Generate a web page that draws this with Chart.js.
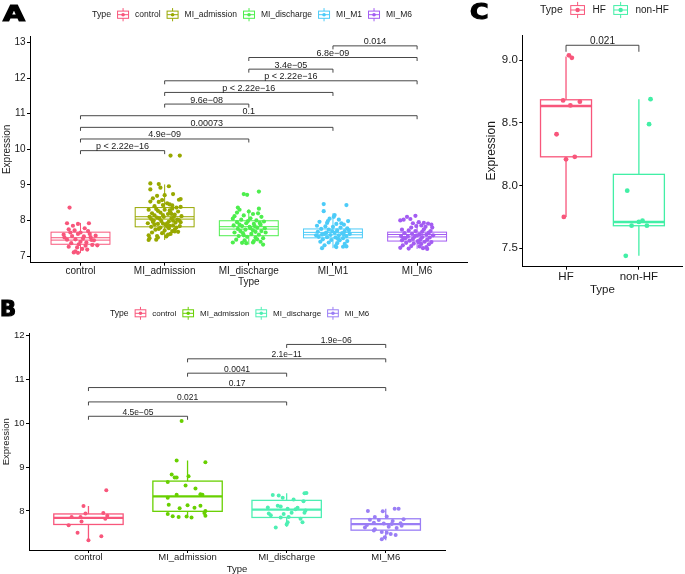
<!DOCTYPE html>
<html>
<head>
<meta charset="utf-8">
<script src="https://cdn.jsdelivr.net/npm/chart.js@4.4.1/dist/chart.umd.min.js"></script>
<style>
  html, body { margin: 0; padding: 0; background: #fff; }
  body { width: 685px; height: 574px; position: relative; overflow: hidden; }
  .panel { position: absolute; }
  .tag { position: absolute; font-family: "DejaVu Sans", sans-serif; font-weight: bold; font-size: 21px; line-height: 1; color: #000; -webkit-text-stroke: 1.2px #000; transform-origin: left top; }
</style>
</head>
<body>
<div class="panel" style="left:0;top:0;width:470px;height:290px"><canvas id="chartA"></canvas></div>
<div class="panel" style="left:0;top:290px;width:450px;height:284px"><canvas id="chartB"></canvas></div>
<div class="panel" style="left:470px;top:0;width:215px;height:300px"><canvas id="chartC"></canvas></div>
<div class="tag" style="left:3px;top:4px;transform:scaleX(1.35)">A</div>
<div class="tag" style="left:0;top:299px">B</div>
<div class="tag" style="left:470px;top:2px;transform:scaleX(1.2)">C</div>
<script>
// ===== Panel A data =====
const groupsA = ['control', 'MI_admission', 'MI_discharge', 'MI_M1', 'MI_M6'];
const ticksA = [7, 8, 9, 10, 11, 12, 13];
const q1A  = [7.33, 7.82, 7.57, 7.51, 7.42];
const medA = [7.48, 8.07, 7.79, 7.63, 7.57];
const q3A  = [7.67, 8.36, 7.99, 7.76, 7.67];
const loA  = [7.08, 7.45, 7.32, 7.22, 7.20];
const hiA  = [7.93, 9.01, 8.31, 8.20, 7.96];

const aControl = [8.36,7.92,7.90,7.92,7.75,7.72,7.66,7.70,7.60,7.56,7.62,7.55,7.53,7.46,7.47,7.49,7.44,7.36,7.33,7.38,7.30,7.26,7.24,7.29,7.31,7.13,7.09,7.10,7.18,7.40,7.62,7.52,7.78,7.85,7.45,7.20,7.66,7.57];
const aControlJit = [-0.13,-0.16,-0.03,0.10,-0.14,-0.07,0.00,0.09,-0.20,-0.10,-0.03,0.04,0.12,-0.16,-0.06,0.03,0.16,-0.11,-0.02,0.07,0.20,-0.14,-0.04,0.06,0.14,-0.06,-0.03,-0.08,0.08,0.00,0.11,-0.19,0.05,-0.09,0.13,0.02,-0.12,0.18];
const aAdmission = [9.82,9.82,9.04,9.02,8.96,8.92,8.87,8.74,8.69,8.71,8.62,8.60,8.58,8.53,8.52,8.48,8.40,8.43,8.42,8.36,8.30,8.32,8.30,8.28,8.25,8.20,8.22,8.18,8.16,8.12,8.10,8.08,8.10,8.05,8.02,8.00,7.98,7.97,7.94,7.92,7.90,7.88,7.86,7.84,7.82,7.80,7.78,7.80,7.74,7.72,7.70,7.66,7.64,7.62,7.68,7.58,7.56,7.55,7.50,7.52,7.45,7.46,7.60,7.74,8.15,8.33,8.14,7.95,8.05,8.10,7.92,7.96,8.22,8.27,8.18,8.04,7.99,7.89,7.83,7.76,7.69,8.45,8.57,8.38,8.01,7.91,7.85];
const aAdmissionJit = [0.07,0.18,-0.17,-0.07,0.05,-0.05,-0.17,0.10,-0.09,0.00,-0.14,0.19,0.17,-0.17,-0.07,0.03,-0.12,-0.02,0.09,0.14,-0.19,-0.10,0.00,0.06,0.16,-0.15,-0.05,0.04,0.12,0.20,-0.18,-0.09,-0.01,0.08,0.15,-0.13,-0.04,0.05,0.13,-0.20,-0.08,0.01,0.10,0.18,-0.16,-0.05,0.05,0.14,-0.11,0.00,0.09,-0.15,-0.03,0.07,0.16,-0.19,-0.09,0.02,-0.18,-0.08,-0.19,-0.10,0.04,0.12,-0.02,0.09,-0.12,0.19,-0.06,0.11,0.03,-0.14,0.07,-0.08,0.08,-0.16,0.10,-0.12,0.03,-0.07,0.12,0.06,-0.03,0.19,0.17,-0.02,0.06];
const aDischarge = [8.74,8.72,8.81,8.36,8.30,8.33,8.25,8.12,8.14,8.18,8.10,8.05,8.02,8.06,8.00,7.97,7.95,7.92,7.90,7.88,7.86,7.84,7.82,7.80,7.78,7.76,7.74,7.72,7.70,7.66,7.64,7.62,7.60,7.56,7.54,7.52,7.50,7.46,7.44,7.42,7.40,7.38,7.37,7.36,7.38,7.32,7.47,7.70,7.84,7.98,8.20,8.22,7.66,7.58,7.78,7.93,7.88,7.68];
const aDischargeJit = [-0.06,-0.02,0.12,-0.13,-0.11,0.12,0.00,-0.17,-0.06,0.05,0.15,-0.19,-0.09,0.02,0.09,0.18,-0.14,-0.03,0.06,0.14,-0.18,-0.08,0.01,0.10,0.19,-0.13,-0.04,0.05,0.15,-0.17,-0.07,0.03,0.12,-0.12,-0.02,0.08,0.17,-0.15,-0.05,0.06,0.14,-0.19,-0.08,-0.03,0.05,0.17,0.10,-0.10,0.07,-0.01,0.11,-0.14,0.20,-0.06,0.02,0.13,-0.11,0.08];
const aM1 = [8.46,8.43,8.26,8.15,8.10,8.05,8.02,7.98,7.96,7.93,7.90,7.88,7.85,7.83,7.82,7.80,7.78,7.76,7.74,7.72,7.70,7.68,7.66,7.65,7.64,7.62,7.60,7.59,7.58,7.56,7.54,7.53,7.52,7.50,7.47,7.45,7.44,7.42,7.40,7.38,7.36,7.34,7.30,7.28,7.26,7.22,7.25,7.27,7.70,7.92,7.62,7.48,7.58,7.72,7.98,7.60];
const aM1Jit = [-0.11,0.16,-0.11,0.02,0.01,-0.04,0.07,0.18,-0.16,-0.07,0.04,0.13,-0.19,-0.09,0.00,0.09,0.17,-0.14,-0.05,0.05,0.14,-0.18,-0.08,0.02,0.11,0.20,-0.13,-0.03,0.07,0.16,-0.17,-0.07,0.03,0.12,-0.12,-0.02,0.08,0.17,-0.15,-0.05,0.05,0.14,-0.10,0.03,0.12,-0.13,0.04,0.16,-0.01,0.10,-0.10,0.06,-0.20,0.19,-0.06,0.13];
const aM6 = [8.10,8.13,8.04,8.02,8.00,7.95,7.93,7.91,7.92,7.88,7.86,7.84,7.82,7.80,7.74,7.72,7.70,7.68,7.66,7.64,7.62,7.61,7.60,7.58,7.56,7.55,7.54,7.53,7.52,7.50,7.48,7.47,7.46,7.44,7.43,7.42,7.40,7.39,7.37,7.35,7.34,7.33,7.30,7.28,7.27,7.25,7.23,7.22,7.20,7.21,7.58,7.75,7.80,7.70,7.50,7.38];
const aM6Jit = [-0.12,-0.02,-0.08,-0.16,-0.20,0.02,0.08,0.13,-0.05,0.17,0.05,-0.01,0.10,0.18,-0.18,-0.10,-0.02,0.06,0.14,-0.15,-0.06,0.03,0.11,0.19,-0.19,-0.11,-0.03,0.06,0.15,-0.14,-0.05,0.04,0.12,-0.18,-0.09,0.01,0.09,0.17,-0.13,-0.04,0.05,0.14,-0.17,-0.07,0.03,0.11,-0.20,0.07,0.12,-0.10,0.00,0.08,-0.07,0.16,-0.16,0.02];

const pairsA = [[0,1],[0,2],[0,3],[0,4],[1,2],[1,3],[1,4],[2,3],[2,4],[3,4]];
const pLabelsA = ['p < 2.22e\u221216', '4.9e\u221209', '0.00073', '0.1', '9.6e\u221208', 'p < 2.22e\u221216', 'p < 2.22e\u221216', '3.4e\u221205', '6.8e\u221209', '0.014'];

// ===== Panel B data =====
const groupsB = ['control', 'MI_admission', 'MI_discharge', 'MI_M6'];
const ticksB = [8, 9, 10, 11, 12];
const q1B  = [7.69, 7.99, 7.85, 7.56];
const medB = [7.84, 8.33, 8.03, 7.70];
const q3B  = [7.93, 8.68, 8.24, 7.82];
const loB  = [7.33, 7.85, 7.64, 7.33];
const hiB  = [8.11, 9.15, 8.40, 8.05];

const bControl = [8.47,8.11,7.94,7.95,7.86,7.86,7.89,7.82,7.76,7.67,7.50,7.42,7.33];
const bControlJit = [0.18,-0.05,-0.03,0.15,-0.08,-0.17,0.19,0.17,-0.07,-0.20,-0.11,0.13,0.00];
const bAdmission = [10.05,9.15,9.11,8.83,8.76,8.76,8.79,8.66,8.58,8.51,8.37,8.30,8.38,8.37,8.14,8.06,8.13,8.07,8.12,8.00,7.93,7.88,7.86,7.87,7.85,7.89,7.95];
const bAdmissionJit = [-0.06,-0.11,0.18,-0.16,-0.13,-0.11,0.01,-0.20,-0.02,0.08,-0.11,-0.20,0.13,0.15,-0.19,-0.08,0.00,0.07,0.13,0.18,-0.20,-0.15,-0.09,-0.01,0.04,0.18,0.17];
const bDischarge = [8.36,8.35,8.40,8.41,8.30,8.26,8.22,8.08,8.12,8.10,8.05,8.04,8.01,7.96,7.94,7.90,7.85,7.86,7.82,7.74,7.69,7.62,7.74,7.93,8.07,7.96];
const bDischargeJit = [-0.14,-0.08,0.18,0.20,-0.04,0.07,0.17,-0.19,-0.09,-0.06,0.01,0.09,0.19,0.18,-0.18,-0.16,-0.06,0.02,0.14,0.01,0.00,-0.11,0.16,-0.03,0.11,0.05];
const bM6 = [8.00,7.99,8.05,8.05,7.86,7.87,7.80,7.79,7.77,7.81,7.73,7.71,7.70,7.72,7.62,7.58,7.64,7.61,7.55,7.52,7.50,7.45,7.40,7.35,7.47,7.68,7.66];
const bM6Jit = [-0.18,-0.03,0.09,0.13,-0.11,0.01,-0.16,-0.07,0.07,0.18,-0.12,-0.02,0.06,0.15,-0.21,-0.11,0.03,0.11,-0.12,-0.04,0.01,0.10,-0.01,-0.04,0.05,-0.19,0.16];

const pairsB = [[0,1],[0,2],[0,3],[1,2],[1,3],[2,3]];
const pLabelsB = ['4.5e\u221205', '0.021', '0.17', '0.0041', '2.1e\u221211', '1.9e\u221206'];

// ===== Panel C data =====
const groupsC = ['HF', 'non-HF'];
const ticksC = [7.5, 8.0, 8.5, 9.0];
const q1C  = [8.23, 7.68];
const medC = [8.635, 7.71];
const q3C  = [8.685, 8.09];
const loC  = [7.75, 7.44];
const hiC  = [9.03, 8.69];
const cHF = [9.04,9.02,8.68,8.64,8.67,8.41,8.21,8.23,7.75];
const cHFJit = [0.04,0.08,-0.04,0.06,0.19,-0.13,0.00,0.12,-0.03];
const cNonHF = [8.69,8.49,7.96,7.68,7.71,7.72,7.68,7.44];
const cNonHFJit = [0.16,0.14,-0.16,-0.10,0.00,0.05,0.11,-0.18];
const pairsC = [[0,1]];
const pLabelsC = ['0.021'];

// ===== Colours =====
const colorsA = ['#F8567B', '#98A800', '#4DEE4D', '#4CCBF8', '#A35CF2'];
const colorsB = ['#F8567B', '#68D000', '#4DEFB3', '#9A7EF5'];
const colorsC = ['#F8567B', '#42EFA6'];

const FONT = '"Liberation Sans", Arial, sans-serif';

// ===== Helpers =====
function scatterSets(valueLists, jitterLists, colors, radius) {
  return valueLists.map((vals, g) => ({
    data: vals.map((v, i) => ({ x: g + 1 + (jitterLists[g][i] || 0), y: v })),
    backgroundColor: colors[g],
    borderWidth: 0,
    pointRadius: radius,
    pointHoverRadius: radius
  }));
}

function boxPlugin(stats, colors, look) {
  return {
    id: 'boxes',
    beforeDatasetsDraw(chart) {
      const { ctx, scales: { x, y } } = chart;
      ctx.save();
      stats.med.forEach((m, g) => {
        const xl = x.getPixelForValue(g + 1 - 0.35);
        const xr = x.getPixelForValue(g + 1 + 0.35);
        const xc = x.getPixelForValue(g + 1);
        const top = y.getPixelForValue(stats.q3[g]);
        const bot = y.getPixelForValue(stats.q1[g]);
        ctx.strokeStyle = colors[g];
        ctx.lineWidth = look.line;
        ctx.beginPath();
        ctx.moveTo(xc, y.getPixelForValue(stats.hi[g])); ctx.lineTo(xc, top);
        ctx.moveTo(xc, bot); ctx.lineTo(xc, y.getPixelForValue(stats.lo[g]));
        ctx.stroke();
        ctx.fillStyle = '#fff';
        ctx.fillRect(xl, top, xr - xl, bot - top);
        ctx.strokeRect(xl, top, xr - xl, bot - top);
        const ym = y.getPixelForValue(m);
        ctx.beginPath();
        if (look.doubleMedian) {
          ctx.moveTo(xl, ym - 1.2); ctx.lineTo(xr, ym - 1.2);
          ctx.moveTo(xl, ym + 1.2); ctx.lineTo(xr, ym + 1.2);
        } else {
          ctx.lineWidth = look.medWidth;
          ctx.moveTo(xl, ym); ctx.lineTo(xr, ym);
        }
        ctx.stroke();
      });
      ctx.restore();
    }
  };
}

function bracketPlugin(pairs, labels, base, step, look) {
  return {
    id: 'brackets',
    afterDatasetsDraw(chart) {
      const { ctx, scales: { x, y } } = chart;
      ctx.save();
      ctx.strokeStyle = '#333';
      ctx.lineWidth = 0.9;
      ctx.fillStyle = '#1a1a1a';
      ctx.font = look.font;
      ctx.textAlign = 'center';
      ctx.textBaseline = 'alphabetic';
      pairs.forEach(([a, b], k) => {
        const yy = y.getPixelForValue(base + k * step);
        const xa = x.getPixelForValue(a + 1), xb = x.getPixelForValue(b + 1);
        ctx.beginPath();
        ctx.moveTo(xa, yy + look.tip); ctx.lineTo(xa, yy);
        ctx.lineTo(xb, yy); ctx.lineTo(xb, yy + look.tip);
        ctx.stroke();
        ctx.fillText(labels[k], (xa + xb) / 2, yy - look.gap);
      });
      ctx.restore();
    }
  };
}

function drawKey(ctx, x0, cy, w, color) {
  const h = w * 0.6, xc = x0 + w / 2;
  ctx.save();
  ctx.strokeStyle = color; ctx.fillStyle = color; ctx.lineWidth = 1;
  ctx.strokeRect(x0 + 0.5, cy - h / 2, w - 1, h);
  ctx.beginPath();
  ctx.moveTo(x0 + 0.5, cy); ctx.lineTo(x0 + w - 0.5, cy);
  ctx.moveTo(xc, cy - h / 2); ctx.lineTo(xc, cy - w * 0.55);
  ctx.moveTo(xc, cy + h / 2); ctx.lineTo(xc, cy + w * 0.55);
  ctx.stroke();
  ctx.beginPath(); ctx.arc(xc, cy, w * 0.15, 0, Math.PI * 2); ctx.fill();
  ctx.restore();
}

function legendPlugin(groups, colors, look) {
  return {
    id: 'typeLegend',
    afterDraw(chart) {
      const ctx = chart.ctx;
      ctx.save();
      ctx.textBaseline = 'middle';
      ctx.textAlign = 'left';
      ctx.fillStyle = '#1a1a1a';
      let xx = look.x;
      ctx.font = look.titleFont;
      ctx.fillText('Type', xx, look.y);
      xx += ctx.measureText('Type').width + look.gap;
      ctx.font = look.font;
      groups.forEach((g, i) => {
        drawKey(ctx, xx, look.y, look.key, colors[i]);
        xx += look.key + look.gap;
        ctx.fillText(g, xx, look.y);
        xx += ctx.measureText(g).width + look.gap;
      });
      ctx.restore();
    }
  };
}

function makeChart(id, cfg) {
  const n = cfg.groups.length;
  return new Chart(document.getElementById(id), {
    type: 'scatter',
    data: { datasets: scatterSets(cfg.values, cfg.jitter, cfg.colors, cfg.radius) },
    options: {
      responsive: true,
      maintainAspectRatio: false,
      animation: false,
      events: [],
      layout: { padding: cfg.pad },
      plugins: { legend: { display: false }, tooltip: { enabled: false } },
      scales: {
        x: {
          type: 'linear', min: 0.4, max: n + 0.6,
          afterFit: s => { s.height = cfg.xh; },
          afterBuildTicks: s => { s.ticks = cfg.groups.map((g, i) => ({ value: i + 1 })); },
          ticks: { callback: v => cfg.groups[Math.round(v) - 1], font: { family: FONT, size: cfg.tickSize, lineHeight: 1 }, color: '#1a1a1a', padding: cfg.xTickPad, maxRotation: 0, autoSkip: false },
          grid: { drawOnChartArea: false, drawTicks: true, tickLength: 3, color: '#000', lineWidth: 1 },
          border: { display: true, color: '#000', width: 1 },
          title: { display: true, text: 'Type', color: '#1a1a1a', font: { family: FONT, size: cfg.xTitleSize, lineHeight: 1 }, padding: { top: 0, bottom: cfg.xTitlePad } }
        },
        y: {
          type: 'linear', min: cfg.ymin, max: cfg.ymax,
          afterFit: s => { s.width = cfg.yw; },
          afterBuildTicks: s => { s.ticks = cfg.ticks.map(v => ({ value: v })); },
          ticks: { callback: v => cfg.tickFmt(v), font: { family: FONT, size: cfg.tickSize, lineHeight: 1 }, color: '#1a1a1a', padding: 1.5 },
          grid: { drawOnChartArea: false, drawTicks: true, tickLength: 3, color: '#000', lineWidth: 1 },
          border: { display: true, color: '#000', width: 1 },
          title: { display: true, text: 'Expression', color: '#1a1a1a', font: { family: FONT, size: cfg.yTitleSize, lineHeight: 1 }, padding: { top: cfg.yTitlePad, bottom: 0 } }
        }
      }
    },
    plugins: [
      boxPlugin({ q1: cfg.q1, med: cfg.med, q3: cfg.q3, lo: cfg.lo, hi: cfg.hi }, cfg.colors, cfg.boxLook),
      bracketPlugin(cfg.pairs, cfg.pLabels, cfg.bracketBase, cfg.bracketStep, cfg.bracketLook),
      legendPlugin(cfg.groups, cfg.colors, cfg.legend)
    ]
  });
}

// ===== Panel A =====
makeChart('chartA', {
  groups: groupsA, colors: colorsA, radius: 2.1,
  values: [aControl, aAdmission, aDischarge, aM1, aM6],
  jitter: [aControlJit, aAdmissionJit, aDischargeJit, aM1Jit, aM6Jit],
  q1: q1A, med: medA, q3: q3A, lo: loA, hi: hiA,
  ticks: ticksA, tickFmt: v => String(v), ymin: 6.812, ymax: 13.18,
  pad: { left: 0, right: 2.4, top: 36, bottom: 0 }, yw: 30, xh: 27.3,
  tickSize: 10, xTickPad: 0.8, xTitleSize: 10, xTitlePad: 3, yTitleSize: 10, yTitlePad: 2.5,
  boxLook: { line: 1, doubleMedian: true },
  pairs: pairsA, pLabels: pLabelsA, bracketBase: 9.96, bracketStep: 0.327,
  bracketLook: { font: '9px ' + FONT, tip: 3.5, gap: 1.5 },
  legend: { x: 92, y: 14.7, key: 12, gap: 6, font: '8.5px ' + FONT, titleFont: '8.8px ' + FONT }
});

// ===== Panel B =====
makeChart('chartB', {
  groups: groupsB, colors: colorsB, radius: 2,
  values: [bControl, bAdmission, bDischarge, bM6],
  jitter: [bControlJit, bAdmissionJit, bDischargeJit, bM6Jit],
  q1: q1B, med: medB, q3: q3B, lo: loB, hi: hiB,
  ticks: ticksB, tickFmt: v => String(v), ymin: 7.107, ymax: 12.05,
  pad: { left: 0, right: 4.8, top: 43.5, bottom: 0 }, yw: 29, xh: 24,
  tickSize: 9.5, xTickPad: 0, xTitleSize: 9.5, xTitlePad: 0, yTitleSize: 9.5, yTitlePad: 1.5,
  boxLook: { line: 1.3, doubleMedian: false, medWidth: 2.2 },
  pairs: pairsB, pLabels: pLabelsB, bracketBase: 10.16, bracketStep: 0.328,
  bracketLook: { font: '8.5px ' + FONT, tip: 3.5, gap: 1.5 },
  legend: { x: 110, y: 23.3, key: 11.7, gap: 6, font: '8px ' + FONT, titleFont: '8.6px ' + FONT }
});

// ===== Panel C =====
makeChart('chartC', {
  groups: groupsC, colors: colorsC, radius: 2.4,
  values: [cHF, cNonHF],
  jitter: [cHFJit, cNonHFJit],
  q1: q1C, med: medC, q3: q3C, lo: loC, hi: hiC,
  ticks: ticksC, tickFmt: v => v.toFixed(1), ymin: 7.353, ymax: 9.202,
  pad: { left: 0, right: 0.5, top: 35, bottom: 0 }, yw: 52.3, xh: 33.3,
  tickSize: 11.5, xTickPad: 1.25, xTitleSize: 11.5, xTitlePad: 4.25, yTitleSize: 12, yTitlePad: 15.7,
  boxLook: { line: 1.3, doubleMedian: false, medWidth: 2.4 },
  pairs: pairsC, pLabels: pLabelsC, bracketBase: 9.12, bracketStep: 0,
  bracketLook: { font: '10px ' + FONT, tip: 6.5, gap: 1.5 },
  legend: { x: 70, y: 10, key: 14.7, gap: 7.5, font: '10px ' + FONT, titleFont: '10.5px ' + FONT }
});
</script>
</body>
</html>
